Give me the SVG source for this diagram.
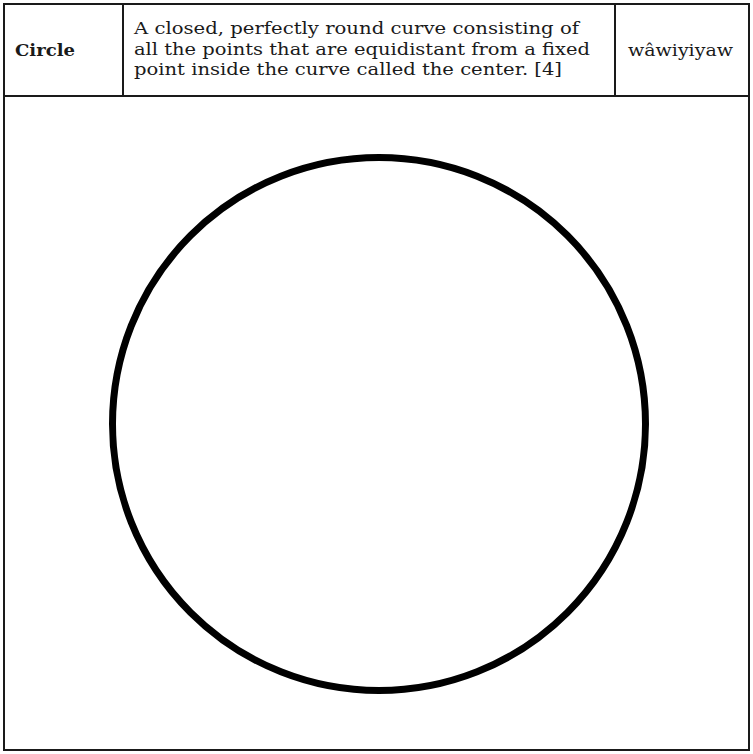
<svg xmlns="http://www.w3.org/2000/svg" width="753" height="754" viewBox="0 0 753 754">
<style>
.b{fill:none;stroke:#1a1a1a;stroke-width:2}
.t{font-family:"DejaVu Serif","Liberation Serif",serif;font-size:17.5px;fill:#1a1a1a}
.h{font-weight:bold}
</style>
<rect x="0" y="0" width="753" height="754" fill="#fff"/>
<g id="table">
<rect class="b" x="4" y="4" width="745" height="746"/>
<line class="b" x1="4" y1="96" x2="749" y2="96"/>
<line class="b" x1="123" y1="4" x2="123" y2="96"/>
<line class="b" x1="615" y1="4" x2="615" y2="96"/>
</g>
<g id="term"><text class="t h" x="15" y="56" textLength="60" lengthAdjust="spacingAndGlyphs">Circle</text></g>
<g id="definition">
<text class="t" x="134" y="34" textLength="445" lengthAdjust="spacingAndGlyphs">A closed, perfectly round curve consisting of</text>
<text class="t" x="134" y="54.5" textLength="456" lengthAdjust="spacingAndGlyphs">all the points that are equidistant from a fixed</text>
<text class="t" x="134" y="75" textLength="428" lengthAdjust="spacingAndGlyphs">point inside the curve called the center. [4]</text>
</g>
<g id="translation"><text class="t" x="628" y="56" textLength="105" lengthAdjust="spacingAndGlyphs">wâwiyiyaw</text></g>
<g id="circle"><circle cx="379" cy="424" r="266.5" fill="none" stroke="#000" stroke-width="7"/></g>
</svg>
